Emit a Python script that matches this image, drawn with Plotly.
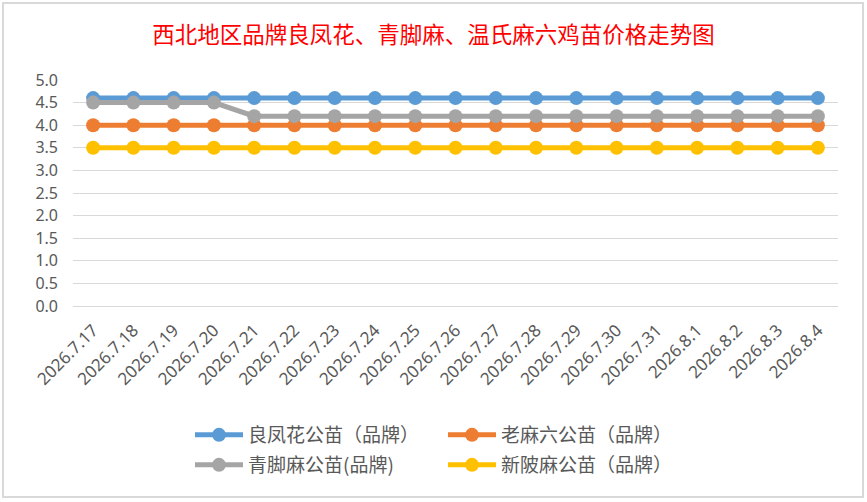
import plotly.graph_objects as go

dates = ["2026.7.17", "2026.7.18", "2026.7.19", "2026.7.20", "2026.7.21", "2026.7.22",
         "2026.7.23", "2026.7.24", "2026.7.25", "2026.7.26", "2026.7.27", "2026.7.28",
         "2026.7.29", "2026.7.30", "2026.7.31", "2026.8.1", "2026.8.2", "2026.8.3", "2026.8.4"]
liangfenghua = [4.6] * 19
laomaliu = [4.0] * 19
qingjiaoma = [4.5, 4.5, 4.5, 4.5] + [4.2] * 15
xinpima = [3.5] * 19

series_names = ["良凤花公苗（品牌）", "老麻六公苗（品牌）", "青脚麻公苗(品牌)", "新陂麻公苗（品牌）"]
series_values = [liangfenghua, laomaliu, qingjiaoma, xinpima]
series_colors = ["#5B9BD5", "#ED7D31", "#A5A5A5", "#FFC000"]
legend_ids = ["legend", "legend", "legend2", "legend2"]
y_ticks = [0.0, 0.5, 1.0, 1.5, 2.0, 2.5, 3.0, 3.5, 4.0, 4.5, 5.0]

fig = go.Figure()
for name, vals, col, lg in zip(series_names, series_values, series_colors, legend_ids):
    fig.add_trace(go.Scatter(
        x=dates, y=vals, name=name, mode="lines+markers",
        line=dict(color=col, width=5),
        marker=dict(color=col, size=14),
        legend=lg,
    ))

tick_font = dict(family="Noto Sans, sans-serif", size=16, color="#595959")
legend_font = dict(family="Noto Sans CJK SC, sans-serif", size=19, color="#595959")

fig.update_layout(
    width=867, height=502,
    paper_bgcolor="white", plot_bgcolor="white",
    margin=dict(l=73, r=29, t=80, b=196, autoexpand=False),
    title=dict(text="西北地区品牌良凤花、青脚麻、温氏麻六鸡苗价格走势图",
               font=dict(family="Noto Sans CJK SC, sans-serif", size=22.5, color="#FF0000"),
               x=0.5, xanchor="center", xref="container",
               y=1 - 35 / 502, yanchor="middle", yref="container"),
    xaxis=dict(type="category", range=[-0.5, 18.5], showgrid=False, showline=False,
               automargin=False, ticklabelstandoff=10,
               ticks="", tickangle=-45, tickfont=dict(family="Noto Sans, sans-serif", size=17, color="#595959")),
    yaxis=dict(range=[0, 5.0], tickvals=y_ticks, ticktext=[f"{v:.1f}" for v in y_ticks],
               automargin=False,
               showgrid=True, gridcolor="#D9D9D9", gridwidth=1, zeroline=True,
               zerolinecolor="#D9D9D9", zerolinewidth=1, showline=False, ticks="",
               tickfont=tick_font, ticklabelstandoff=14),
    legend=dict(orientation="h", xref="container", yref="container",
                x=190 / 867, xanchor="left", y=67 / 502, yanchor="middle",
                font=legend_font, entrywidth=190, entrywidthmode="pixels", itemwidth=48,
                bgcolor="rgba(0,0,0,0)"),
    legend2=dict(orientation="h", xref="container", yref="container",
                 x=190 / 867, xanchor="left", y=37 / 502, yanchor="middle",
                 font=legend_font, entrywidth=190, entrywidthmode="pixels", itemwidth=48,
                 bgcolor="rgba(0,0,0,0)"),
    shapes=[dict(type="rect", xref="paper", yref="paper",
                 x0=(3 - 73) / 765, x1=(863 - 73) / 765,
                 y0=(306 - 497) / 226, y1=(306 - 3) / 226,
                 line=dict(color="#D9D9D9", width=2), fillcolor="rgba(0,0,0,0)", layer="below")],
)

fig.write_html("out.html", config={"displayModeBar": False},
               post_script="document.body.style.margin='0';")
